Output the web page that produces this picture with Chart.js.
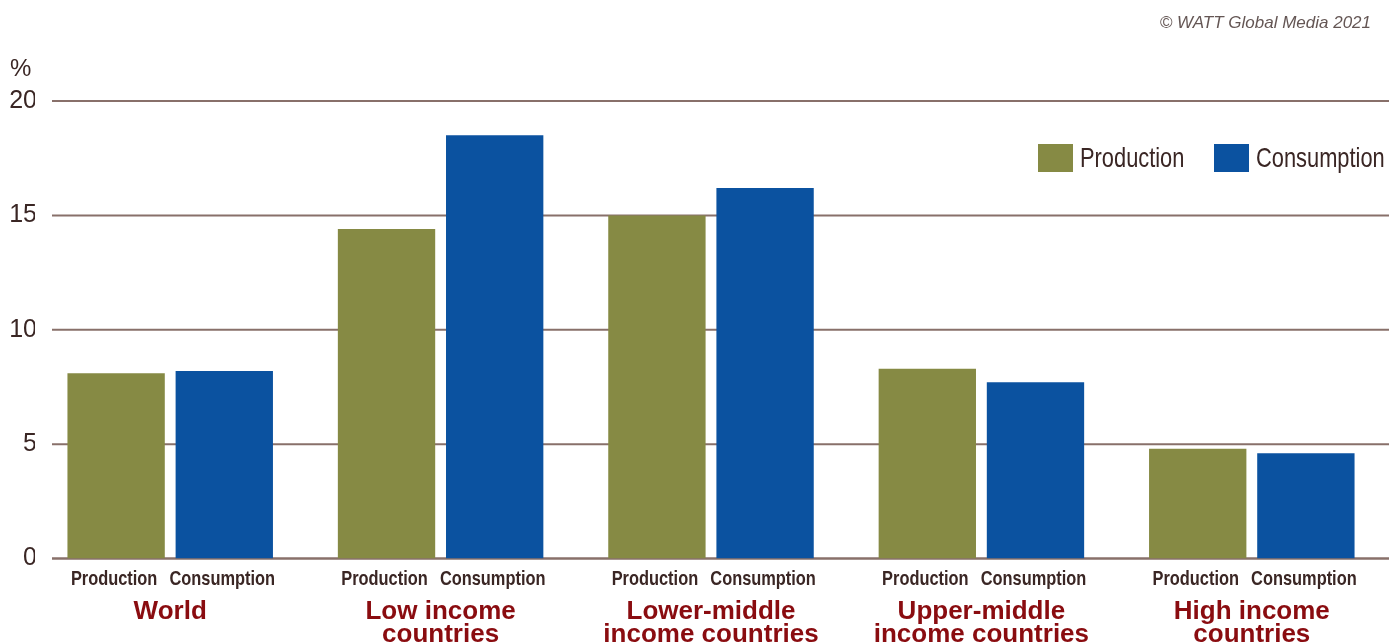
<!DOCTYPE html>
<html>
<head>
<meta charset="utf-8">
<script src="https://cdn.jsdelivr.net/npm/chart.js@4"></script>
<style>
  html, body { margin: 0; padding: 0; background: #fff; }
  #wrap { width: 1389px; height: 644px; }
</style>
</head>
<body>
<div id="wrap"><canvas id="myChart" width="1389" height="644"></canvas></div>
<script>
//------------------------------ data ------------------------------

const groups = [
    ['World'],
    ['Low income', 'countries'],
    ['Lower-middle', 'income countries'],
    ['Upper-middle', 'income countries'],
    ['High income', 'countries']
];

const production = [8.1, 14.4, 15.0, 8.3, 4.8];
const consumption = [8.2, 18.5, 16.2, 7.7, 4.6];

const yTicks = [0, 5, 10, 15, 20];

const OLIVE = 'rgb(134,138,68)';
const BLUE = 'rgb(11,82,160)';
const GRID = 'rgb(136,112,106)';
const TEXT = 'rgb(58,38,36)';
const RED = 'rgb(138,12,16)';
const SANS = '"Liberation Sans", Arial, sans-serif';

// condensed text helper (the original type is a narrow face)
function drawNarrow(ctx, text, x, y, font, squeeze, align) {
    ctx.save();
    ctx.font = font;
    ctx.textAlign = align || 'center';
    ctx.textBaseline = 'middle';
    ctx.translate(x, y);
    ctx.scale(squeeze, 1);
    ctx.fillText(text, 0, 0);
    ctx.restore();
}

//------------------------------ plugins ------------------------------

// horizontal rules, starting a little right of the tick labels
const rules = {
    id: 'rules',
    beforeDatasetsDraw(chart) {
        const ctx = chart.ctx;
        const y = chart.scales.y;
        ctx.save();
        ctx.strokeStyle = GRID;
        yTicks.forEach(v => {
            const py = y.getPixelForValue(v);
            ctx.lineWidth = v === 0 ? 2.5 : 2;
            ctx.beginPath();
            ctx.moveTo(52, py);
            ctx.lineTo(chart.width, py);
            ctx.stroke();
        });
        ctx.restore();
    }
};

// "Production" / "Consumption" under each bar, legend, unit and credit
const extras = {
    id: 'extras',
    afterDatasetsDraw(chart) {
        const ctx = chart.ctx;
        const y0 = chart.scales.y.getPixelForValue(0);
        ctx.save();
        ctx.fillStyle = TEXT;
        chart.data.datasets.forEach((ds, i) => {
            chart.getDatasetMeta(i).data.forEach(bar => {
                drawNarrow(ctx, ds.label, bar.x - 2, y0 + 21, 'bold 21px ' + SANS, 0.78);
            });
        });

        // legend
        const legendX = [1038, 1214];
        chart.data.datasets.forEach((ds, i) => {
            ctx.fillStyle = ds.backgroundColor;
            ctx.fillRect(legendX[i], 144, 35, 28);
            ctx.fillStyle = TEXT;
            drawNarrow(ctx, ds.label, legendX[i] + 42, 159, '28px ' + SANS, 0.78, 'left');
        });

        // unit
        ctx.fillStyle = TEXT;
        ctx.font = '24px ' + SANS;
        ctx.textAlign = 'left';
        ctx.textBaseline = 'middle';
        ctx.fillText('%', 10, 69);

        // credit
        ctx.fillStyle = 'rgb(100,86,84)';
        ctx.font = 'italic 17px ' + SANS;
        ctx.textAlign = 'right';
        ctx.fillText('\u00A9 WATT Global Media 2021', 1371, 23);
        ctx.restore();
    }
};

//------------------------------ chart ------------------------------

const dataBars = {
    labels: groups,
    datasets: [{
        label: 'Production',
        backgroundColor: OLIVE,
        data: production
    },
    {
        label: 'Consumption',
        backgroundColor: BLUE,
        data: consumption
    }]
};

const configBars = {
    type: 'bar',
    data: dataBars,
    options: {
        responsive: false,
        animation: false,
        devicePixelRatio: 1,
        layout: { padding: { top: 101, right: 2, left: 0, bottom: 0 } },
        datasets: {
            bar: { barPercentage: 0.9, categoryPercentage: 0.8, borderWidth: 0 }
        },
        plugins: {
            legend: { display: false },
            tooltip: { enabled: false }
        },
        scales: {
            x: {
                grid: { display: false },
                border: { display: false },
                ticks: {
                    color: RED,
                    font: { family: SANS, size: 26, weight: 'bold', lineHeight: 0.88 },
                    padding: 34,
                    maxRotation: 0,
                    autoSkip: false
                },
                afterFit(scale) { scale.height = 85.5; }
            },
            y: {
                min: 0,
                max: 20,
                grid: { display: false },
                border: { display: false },
                ticks: {
                    stepSize: 5,
                    color: TEXT,
                    font: { family: SANS, size: 25 },
                    padding: -10
                },
                afterFit(scale) { scale.width = 35; }
            }
        }
    },
    plugins: [rules, extras]
};

var chartBars = new Chart(document.getElementById('myChart'), configBars);
</script>
</body>
</html>
